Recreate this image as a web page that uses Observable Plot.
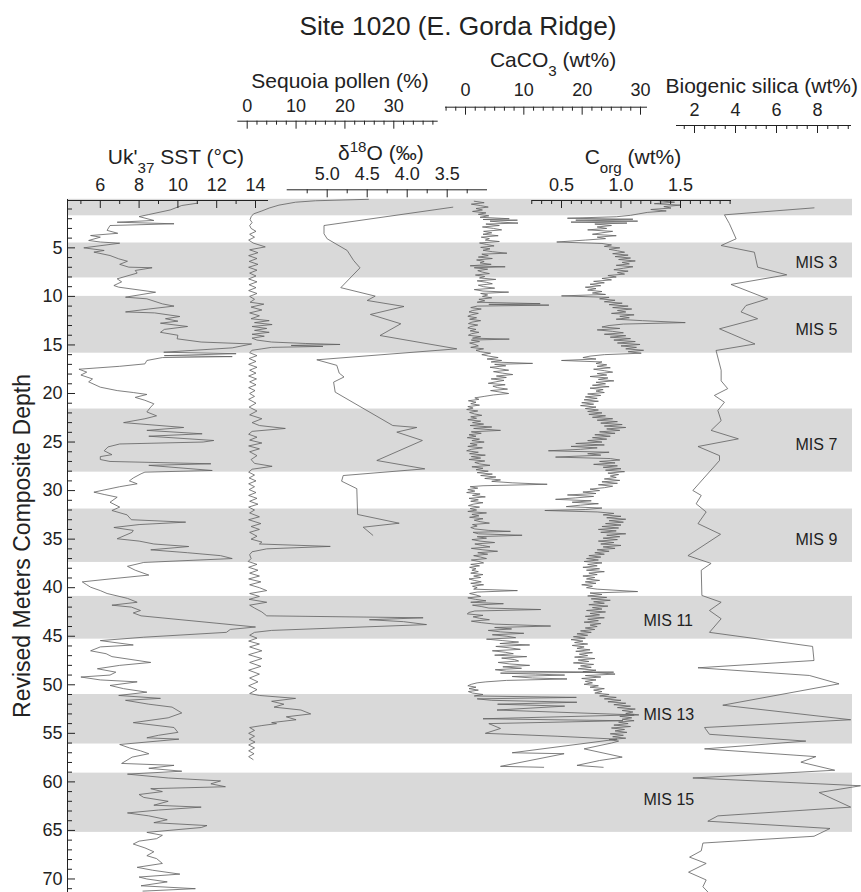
<!DOCTYPE html>
<html><head><meta charset="utf-8">
<script src="https://cdn.jsdelivr.net/npm/d3@7"></script>
<script src="https://cdn.jsdelivr.net/npm/@observablehq/plot@0.6"></script>
<style>
html,body{margin:0;padding:0;background:#fff;}
#chart{position:relative;width:861px;height:892px;overflow:hidden;}
#chart svg{position:absolute;left:0;top:0;}
</style></head><body><div id="chart"></div>
<script>
// ---------- data (depth in revised meters composite depth, value) ----------
const misBands = [[0,1.7],[4.5,8.1],[10.0,15.85],[21.6,28.1],[31.9,37.4],[40.9,45.3],[51.0,56.1],[59.1,65.2]];
const misRight = ["MIS 3","MIS 5","MIS 7","MIS 9"];
const misRightDepth = [6.55,13.4,25.25,35.1];
const misLeft = ["MIS 11","MIS 13","MIS 15"];
const misLeftDepth = [43.4,53.05,61.9];

const sst = [[0.4,11.0],[0.64,10.2],[1.1,9.6],[1.57,8.5],[1.78,8.0],[2.18,8.76],[2.36,6.87],[2.52,9.8],[2.7,6.5],[3.2,6.35],[3.5,6.9],[3.73,5.5],[3.9,6.0],[4.24,5.4],[4.4,6.0],[4.52,7.0],[5.0,5.15],[5.27,6.2],[5.44,5.67],[5.79,6.5],[6.13,6.95],[6.38,7.4],[6.7,7.0],[6.99,7.47],[7.05,8.67],[7.33,7.8],[7.6,7.9],[8.19,6.87],[8.5,7.1],[8.88,6.7],[9.05,6.95],[9.57,8.85],[10.08,7.3],[10.25,8.4],[10.77,9.2],[11.0,9.8],[11.3,8.5],[11.6,7.3],[11.7,8.8],[12.07,10.1],[12.3,9.36],[12.55,10.0],[12.76,9.1],[13.1,10.5],[13.4,9.3],[13.7,9.1],[14.0,10.0],[14.37,9.96],[14.7,11.2],[14.9,13.8],[15.3,12.8],[15.75,9.27],[15.9,13.0],[16.1,9.3],[16.2,12.8],[16.3,9.2],[16.6,8.4],[16.95,8.3],[17.2,7.0],[17.5,4.9],[17.8,5.3],[18.1,5.0],[18.5,5.6],[18.8,5.4],[19.35,6.0],[19.7,6.87],[19.9,7.7],[20.1,8.4],[20.4,7.8],[20.7,8.3],[21.06,8.76],[21.4,8.6],[21.9,8.4],[22.3,8.9],[22.6,8.3],[23.0,7.2],[23.5,10.3],[23.8,8.4],[24.15,11.25],[24.4,8.5],[24.84,11.85],[25.0,11.3],[25.2,7.0],[25.5,6.4],[25.9,6.2],[26.3,6.6],[26.5,6.0],[26.8,6.0],[27.0,6.5],[27.24,11.7],[27.4,8.5],[27.93,11.77],[28.1,8.3],[28.27,8.1],[28.7,7.7],[29.0,7.5],[29.3,7.9],[29.6,7.0],[30.16,5.67],[30.4,6.2],[30.68,6.87],[31.2,6.5],[31.7,7.0],[32.05,6.6],[32.5,7.38],[33.0,7.6],[33.25,10.4],[33.5,8.0],[33.8,6.7],[34.1,7.7],[34.3,7.64],[34.96,6.87],[35.2,8.0],[35.5,8.76],[35.76,10.56],[36.1,8.6],[36.4,10.5],[36.7,12.2],[37.0,12.8],[37.4,8.24],[37.8,7.4],[38.2,7.8],[38.7,8.5],[39.1,6.5],[39.4,5.07],[39.7,5.3],[39.95,5.5],[40.3,6.0],[40.6,6.35],[41.1,7.4],[41.5,7.9],[41.8,6.6],[42.0,7.6],[42.35,8.07],[42.6,7.7],[42.9,8.1],[44.05,14.0],[44.3,12.7],[44.6,12.5],[45.1,8.24],[45.45,6.0],[45.9,7.7],[46.1,6.0],[46.5,5.5],[46.8,6.3],[47.1,6.6],[47.7,8.6],[48.0,7.0],[48.35,5.85],[48.7,6.8],[49.0,6.5],[49.2,5.0],[49.5,6.0],[49.7,7.9],[50.07,6.5],[50.4,7.2],[50.76,8.4],[51.1,6.95],[51.4,9.1],[51.6,7.3],[52.0,8.5],[52.3,9.7],[52.9,10.2],[53.4,9.5],[53.9,7.7],[54.4,9.8],[54.9,10.0],[55.2,9.0],[55.46,8.4],[55.6,10.05],[56.15,7.0],[56.5,7.5],[56.8,8.07],[57.1,8.5],[57.45,7.64],[58.1,7.1],[58.3,9.8],[58.6,8.5],[58.9,10.2],[59.2,7.4],[59.6,9.5],[59.9,12.2],[60.2,11.7],[60.5,12.45],[60.7,8.6],[61.0,9.2],[61.3,8.0],[61.6,8.24],[62.0,9.5],[62.4,8.76],[62.6,11.2],[62.9,9.0],[63.2,7.4],[63.5,8.5],[63.9,9.45],[64.2,8.76],[64.5,11.5],[64.7,11.2],[65.2,8.4],[65.5,9.2],[65.85,8.9],[66.1,8.0],[66.4,7.7],[66.8,8.3],[67.2,8.76],[67.6,8.4],[67.9,8.9],[68.4,9.2],[68.8,7.9],[69.1,8.7],[69.5,10.1],[69.8,8.0],[70.0,8.4],[70.3,9.45],[70.7,8.1],[71.0,10.9],[71.25,8.2]];

const sequoia = [[0.0,24.8],[0.15,14],[0.3,9.9],[0.6,6.5],[0.9,4.5],[1.2,3.0],[1.5,1.3],[1.8,0.8],[2.1,0.6],[2.4,1.0],[2.7,0.5],[3.0,0.8],[3.3,1.8],[3.6,0.5],[3.9,1.5],[4.2,0.3],[4.5,1.2],[4.9,3.7],[5.2,0.5],[5.5,2.2],[5.8,0.3],[6.1,2.0],[6.4,0.4],[6.7,2.2],[7.0,0.3],[7.3,2.0],[7.6,0.5],[7.9,1.8],[8.2,0.3],[8.5,2.0],[8.8,0.4],[9.1,1.8],[9.4,0.3],[9.7,2.0],[10.0,0.5],[10.3,1.5],[10.6,0.6],[10.8,3.4],[11.1,0.8],[11.4,3.0],[11.7,0.5],[12.0,2.5],[12.3,0.8],[12.5,4.5],[12.7,1.5],[12.9,5.1],[13.1,1.0],[13.3,4.0],[13.5,1.5],[13.7,4.5],[13.9,1.0],[14.1,3.5],[14.3,1.0],[14.5,2.0],[14.7,5.0],[14.85,12.0],[14.95,19.0],[15.05,9.0],[15.15,15.5],[15.25,5.0],[15.4,3.0],[15.55,1.0],[15.8,0.5],[16.1,2.0],[16.4,0.4],[16.7,1.8],[17.0,0.3],[17.3,2.0],[17.6,0.5],[17.9,1.8],[18.2,0.3],[18.5,1.9],[18.8,0.5],[19.1,1.8],[19.4,0.3],[19.7,1.6],[20.0,0.5],[20.3,1.5],[20.6,0.3],[21.0,1.8],[21.4,0.4],[21.8,2.0],[22.2,0.5],[22.6,3.0],[23.0,1.0],[23.3,2.5],[23.6,7.8],[23.9,1.0],[24.2,0.3],[24.5,2.0],[24.8,0.5],[25.1,3.0],[25.4,0.3],[25.7,2.5],[26.0,0.5],[26.4,2.0],[26.8,0.8],[27.2,1.5],[27.5,5.1],[27.8,1.0],[28.1,0.3],[28.4,1.5],[28.7,0.4],[29.0,1.8],[29.3,0.3],[29.6,1.5],[29.9,0.4],[30.2,1.8],[30.5,0.3],[30.8,2.0],[31.1,0.5],[31.4,2.2],[31.7,0.3],[32.0,1.5],[32.3,0.5],[32.7,2.5],[33.0,0.3],[33.4,2.8],[33.7,0.8],[34.0,2.5],[34.3,0.5],[34.7,2.0],[35.0,0.8],[35.3,3.0],[35.5,2.5],[35.75,17.0],[36.0,4.0],[36.3,1.0],[36.6,0.5],[37.0,0.8],[37.3,0.2],[37.6,2.0],[37.9,0.3],[38.2,2.2],[38.5,0.5],[38.8,2.5],[39.1,0.3],[39.4,2.8],[39.7,0.5],[40.0,2.5],[40.3,4.0],[40.6,0.5],[40.9,2.5],[41.2,0.4],[41.5,4.0],[41.8,0.5],[42.1,1.5],[42.5,3.0],[42.9,4.0],[43.1,36.0],[43.3,25.0],[43.5,32.0],[43.8,36.7],[44.4,5.0],[44.6,1.5],[44.9,0.5],[45.2,2.0],[45.5,0.3],[45.8,2.5],[46.1,0.5],[46.5,3.0],[46.9,0.3],[47.3,3.0],[47.7,0.5],[48.1,2.8],[48.5,0.3],[48.9,2.5],[49.3,0.5],[49.7,2.2],[50.1,0.3],[50.5,2.0],[50.9,0.5],[51.1,2.5],[51.4,9.9],[51.7,5.0],[52.0,7.5],[52.3,5.5],[52.6,11.0],[53.0,13.0],[53.3,8.0],[53.6,10.0],[53.9,5.0],[54.0,6.0],[54.2,3.0],[54.4,0.5],[54.7,1.5],[55.0,0.3],[55.3,1.5],[55.6,0.4],[55.9,1.6],[56.2,0.3],[56.5,1.5],[56.8,0.3],[57.1,1.4],[57.4,0.3],[57.7,1.2]];

const d18O = [[0.81,3.43],[2.7,5.04],[3.55,5.04],[4.07,5.0],[5.27,4.75],[6.3,4.67],[7.06,4.59],[9.1,4.83],[9.97,4.4],[10.42,4.5],[11.04,4.04],[11.86,4.46],[12.82,4.08],[14.03,4.34],[15.4,3.38],[16.53,5.13],[17.1,4.88],[17.9,4.85],[18.3,4.79],[18.83,4.92],[19.86,4.9],[23.3,4.18],[23.5,3.88],[23.98,4.13],[24.84,3.81],[26.9,4.38],[27.76,3.78],[28.45,4.8],[29.03,4.82],[29.8,4.63],[32.46,4.62],[33.36,4.1],[33.77,4.55],[34.6,4.43]];

const caco3 = [[0.2,1.5],[0.35,3.2],[0.5,1.0],[0.65,2.6],[0.8,3.9],[0.95,1.8],[1.1,2.9],[1.25,1.2],[1.4,3.5],[1.55,2.2],[1.7,4.0],[1.85,2.5],[2.0,7.5],[2.08,3.0],[2.15,8.9],[2.25,4.2],[2.35,6.0],[2.45,9.0],[2.55,3.5],[2.7,5.8],[2.85,2.9],[3.0,4.8],[3.15,6.2],[3.3,3.1],[3.45,4.5],[3.6,3.0],[3.75,5.6],[3.9,2.7],[4.05,4.1],[4.2,3.4],[4.35,5.8],[4.5,2.4],[4.65,3.6],[4.8,4.9],[4.95,2.6],[5.1,4.2],[5.25,3.0],[5.4,4.6],[5.55,7.1],[5.65,2.8],[5.8,3.9],[5.95,2.2],[6.1,4.6],[6.25,1.9],[6.4,3.2],[6.55,2.5],[6.7,4.4],[6.85,0.8],[6.95,6.8],[7.05,1.5],[7.2,3.8],[7.35,2.1],[7.5,2.9],[7.65,4.1],[7.8,1.7],[7.95,3.3],[8.1,2.4],[8.25,5.2],[8.4,2.0],[8.55,3.6],[8.7,4.6],[8.85,2.2],[9.0,3.1],[9.15,5.0],[9.3,1.5],[9.45,3.0],[9.56,7.4],[9.7,2.6],[9.85,3.8],[10.0,2.9],[10.15,4.5],[10.3,2.3],[10.45,3.3],[10.6,2.0],[10.75,12.8],[10.82,4.0],[10.9,14.3],[11.0,2.0],[11.15,0.9],[11.3,2.7],[11.45,1.2],[11.6,0.6],[11.75,2.2],[11.9,1.0],[12.05,0.4],[12.2,1.9],[12.35,0.7],[12.5,2.6],[12.65,1.1],[12.8,0.5],[12.95,2.1],[13.1,0.9],[13.25,0.4],[13.4,1.8],[13.55,0.8],[13.7,2.3],[13.85,1.0],[14.0,0.5],[14.15,2.6],[14.3,1.2],[14.4,7.5],[14.5,1.0],[14.65,2.4],[14.8,0.7],[14.95,1.6],[15.1,2.2],[15.25,0.9],[15.4,3.1],[15.55,1.8],[15.7,2.6],[15.85,4.3],[16.0,2.8],[16.15,4.0],[16.3,5.6],[16.45,3.7],[16.6,6.2],[16.75,4.4],[16.9,11.5],[17.0,5.0],[17.15,6.9],[17.3,4.2],[17.45,5.8],[17.6,7.4],[17.75,4.8],[17.9,6.3],[18.05,8.1],[18.2,5.3],[18.35,7.0],[18.5,4.4],[18.65,6.6],[18.8,5.2],[18.95,3.9],[19.1,6.8],[19.25,4.7],[19.4,5.5],[19.55,7.2],[19.7,4.3],[19.85,5.9],[20.0,7.4],[20.15,4.8],[20.3,3.2],[20.45,1.6],[20.6,2.3],[20.75,0.5],[20.9,1.8],[21.05,0.9],[21.2,2.4],[21.35,0.4],[21.5,1.3],[21.65,0.2],[21.8,2.1],[21.95,0.7],[22.1,1.5],[22.25,2.8],[22.4,0.9],[22.55,1.9],[22.7,0.4],[22.85,2.6],[23.0,1.2],[23.15,3.1],[23.3,0.8],[23.45,4.5],[23.6,1.4],[23.8,6.0],[23.95,1.0],[24.1,2.7],[24.25,0.6],[24.4,1.8],[24.55,0.3],[24.7,2.4],[24.85,1.1],[25.0,3.2],[25.15,0.8],[25.3,2.0],[25.45,0.4],[25.6,2.9],[25.75,1.0],[25.9,0.2],[26.05,2.2],[26.2,0.7],[26.35,3.4],[26.5,1.0],[26.65,2.6],[26.8,0.6],[26.95,3.3],[27.1,1.6],[27.25,2.4],[27.4,4.2],[27.55,1.1],[27.7,3.0],[27.85,1.8],[28.0,3.9],[28.15,2.0],[28.3,4.6],[28.45,2.6],[28.6,5.2],[28.75,3.3],[28.9,6.0],[29.05,4.5],[29.2,8.0],[29.35,14.0],[29.5,3.0],[29.6,0.8],[29.75,2.1],[29.9,0.4],[30.05,1.6],[30.2,0.2],[30.35,2.5],[30.5,1.2],[30.65,3.4],[30.8,0.6],[30.95,2.2],[31.1,0.9],[31.25,3.0],[31.4,1.3],[31.55,0.5],[31.7,2.4],[31.85,0.8],[32.0,1.9],[32.15,0.4],[32.3,3.6],[32.45,1.1],[32.6,2.3],[32.75,0.7],[32.9,3.0],[33.05,1.5],[33.2,2.5],[33.35,4.1],[33.5,1.2],[33.65,2.0],[33.8,0.9],[33.95,1.6],[34.1,4.0],[34.2,7.7],[34.3,1.3],[34.45,2.2],[34.6,9.7],[34.75,2.0],[34.9,3.6],[35.05,1.1],[35.2,2.5],[35.35,5.0],[35.5,1.6],[35.65,2.9],[35.8,4.2],[35.95,1.0],[36.1,3.0],[36.25,5.5],[36.4,2.1],[36.55,3.8],[36.7,1.4],[36.85,2.6],[37.0,3.6],[37.15,1.0],[37.3,2.3],[37.45,3.1],[37.6,0.9],[37.75,2.4],[37.9,0.7],[38.05,1.8],[38.2,1.1],[38.35,2.2],[38.5,0.9],[38.65,3.0],[38.8,1.4],[38.95,2.6],[39.1,0.6],[39.25,1.5],[39.4,2.7],[39.55,0.9],[39.7,3.1],[39.85,1.2],[40.0,2.0],[40.15,1.4],[40.3,8.9],[40.45,2.0],[40.6,0.7],[40.75,1.8],[40.9,2.6],[41.05,0.4],[41.2,1.7],[41.35,3.5],[41.5,0.9],[41.65,6.5],[41.8,1.2],[41.95,2.8],[42.1,4.0],[42.25,12.9],[42.4,1.6],[42.55,0.6],[42.7,0.3],[42.85,3.0],[43.0,1.3],[43.15,2.4],[43.3,4.1],[43.45,1.0],[43.6,2.7],[43.75,5.0],[43.95,14.6],[44.1,5.0],[44.25,7.9],[44.4,3.9],[44.55,6.0],[44.7,10.0],[44.85,4.6],[45.0,7.1],[45.15,8.6],[45.3,3.6],[45.45,6.4],[45.6,9.1],[45.75,5.9],[45.9,11.0],[46.05,5.2],[46.2,7.6],[46.35,9.4],[46.5,4.6],[46.65,6.8],[46.8,8.2],[46.95,5.0],[47.1,10.5],[47.25,6.2],[47.4,8.4],[47.55,9.1],[47.7,5.6],[47.85,7.5],[48.0,11.0],[48.15,6.4],[48.3,9.6],[48.45,5.1],[48.6,7.0],[48.7,25.4],[48.8,6.0],[48.9,12.0],[49.0,17.0],[49.15,8.0],[49.3,11.5],[49.4,17.4],[49.55,7.0],[49.7,3.5],[49.8,2.0],[49.95,1.0],[50.1,0.4],[50.25,1.8],[50.4,0.6],[50.55,2.2],[50.7,0.5],[50.85,1.2],[51.0,3.0],[51.15,1.5],[51.3,19.0],[51.45,2.0],[51.6,4.5],[51.8,19.1],[52.0,5.5],[52.2,17.0],[52.6,5.4],[53.1,28.9],[53.5,3.0],[53.7,27.0],[54.0,4.0],[54.5,6.0],[55.0,3.4],[55.3,15.7],[55.6,26.0],[57.0,8.0],[57.1,16.9],[58.4,6.0],[58.5,13.4]];

const corg = [[0.15,1.32],[0.3,1.45],[0.45,1.28],[0.6,1.50],[0.75,1.36],[0.9,1.42],[1.05,1.25],[1.2,1.38],[1.35,1.22],[1.5,1.15],[1.65,1.08],[1.8,0.96],[1.95,0.55],[2.05,1.10],[2.15,0.62],[2.25,1.14],[2.35,0.58],[2.45,1.05],[2.55,0.78],[2.7,0.92],[2.85,0.80],[3.0,0.88],[3.15,0.72],[3.3,0.93],[3.45,0.84],[3.6,0.76],[3.75,0.96],[3.9,0.80],[4.05,0.87],[4.2,0.70],[4.4,0.46],[4.55,0.84],[4.7,0.92],[4.85,0.86],[5.0,0.99],[5.15,0.90],[5.3,0.97],[5.45,1.03],[5.6,0.93],[5.75,1.06],[5.9,0.95],[6.05,1.08],[6.2,0.98],[6.35,1.12],[6.5,1.01],[6.65,1.07],[6.8,0.96],[6.95,1.10],[7.1,1.02],[7.25,0.94],[7.4,1.06],[7.55,0.97],[7.7,1.03],[7.85,0.89],[8.0,0.96],[8.15,0.84],[8.3,0.92],[8.45,0.77],[8.6,0.86],[8.75,0.74],[8.9,0.83],[9.05,0.70],[9.2,0.79],[9.35,0.72],[9.5,0.84],[9.65,0.76],[9.8,0.87],[9.95,0.50],[10.1,0.90],[10.25,0.82],[10.4,0.95],[10.55,0.86],[10.7,1.01],[10.85,0.90],[11.0,1.06],[11.15,0.93],[11.3,1.09],[11.45,0.97],[11.6,1.04],[11.75,0.92],[11.9,1.11],[12.05,0.99],[12.2,1.07],[12.35,0.96],[12.5,1.18],[12.7,1.54],[12.85,1.02],[13.0,0.90],[13.15,0.84],[13.3,0.99],[13.45,0.80],[13.6,0.93],[13.75,1.02],[13.9,0.86],[14.05,1.04],[14.2,0.91],[14.35,1.08],[14.5,0.94],[14.65,1.12],[14.8,0.97],[14.95,1.16],[15.1,1.00],[15.25,1.13],[15.4,1.04],[15.55,1.19],[15.7,1.06],[15.85,1.17],[16.0,0.86],[16.15,0.74],[16.3,0.68],[16.45,0.79],[16.6,0.50],[16.75,0.84],[16.9,0.79],[17.05,0.88],[17.2,0.80],[17.35,0.91],[17.5,0.77],[17.65,0.86],[17.8,0.93],[17.95,0.80],[18.1,0.88],[18.25,0.74],[18.4,0.89],[18.55,0.81],[18.7,0.94],[18.85,0.79],[19.0,0.87],[19.15,0.76],[19.3,0.90],[19.45,0.74],[19.6,0.85],[19.75,0.79],[19.9,0.86],[20.05,0.72],[20.2,0.83],[20.35,0.70],[20.5,0.80],[20.65,0.69],[20.8,0.81],[20.95,0.67],[21.1,0.77],[21.25,0.66],[21.4,0.79],[21.55,0.70],[21.7,0.81],[21.85,0.72],[22.0,0.84],[22.15,0.73],[22.3,0.87],[22.45,0.76],[22.6,0.93],[22.75,0.80],[22.9,0.97],[23.05,0.83],[23.2,1.01],[23.35,0.86],[23.5,1.04],[23.65,0.88],[23.8,0.99],[23.95,0.82],[24.1,0.95],[24.25,0.78],[24.4,0.91],[24.55,0.76],[24.7,0.88],[24.85,0.72],[25.0,0.84],[25.15,0.62],[25.3,0.86],[25.45,0.58],[25.6,0.80],[25.75,0.66],[25.9,0.39],[26.05,0.90],[26.2,0.72],[26.35,0.83],[26.55,0.45],[26.7,0.91],[26.85,0.99],[27.0,0.82],[27.15,0.95],[27.3,0.77],[27.45,0.97],[27.6,0.85],[27.75,1.00],[27.9,0.87],[28.05,1.03],[28.2,0.89],[28.35,0.98],[28.5,0.91],[28.65,0.96],[28.8,0.86],[28.95,0.99],[29.1,0.84],[29.25,0.97],[29.4,0.81],[29.55,0.93],[29.7,0.86],[29.85,0.74],[30.0,0.82],[30.15,0.68],[30.3,0.79],[30.45,0.55],[30.6,0.77],[30.75,0.62],[30.9,0.45],[31.05,0.75],[31.2,0.59],[31.35,0.81],[31.5,0.66],[31.65,0.54],[31.8,0.84],[31.95,0.70],[32.05,0.36],[32.2,0.80],[32.35,0.94],[32.5,0.85],[32.65,1.00],[32.8,0.88],[32.95,1.04],[33.1,0.90],[33.25,1.02],[33.4,0.87],[33.55,1.00],[33.7,0.84],[33.85,0.98],[34.0,0.81],[34.15,0.96],[34.3,0.83],[34.45,1.04],[34.6,0.88],[34.75,0.99],[34.9,0.85],[35.05,0.97],[35.2,0.81],[35.35,0.94],[35.5,0.83],[35.65,1.00],[35.8,0.85],[35.95,0.95],[36.1,0.80],[36.25,0.90],[36.4,0.78],[36.55,0.86],[36.7,0.73],[36.85,0.83],[37.0,0.71],[37.15,0.81],[37.3,0.69],[37.45,0.84],[37.6,0.72],[37.75,0.80],[37.9,0.68],[38.05,0.82],[38.2,0.71],[38.35,0.86],[38.5,0.73],[38.65,0.80],[38.8,0.68],[38.95,0.78],[39.1,0.71],[39.25,0.82],[39.4,0.70],[39.55,0.79],[39.7,0.67],[39.85,0.76],[40.0,0.71],[40.15,0.80],[40.4,1.14],[40.55,0.74],[40.7,0.84],[40.85,0.72],[41.0,0.88],[41.15,0.75],[41.3,0.91],[41.45,0.77],[41.6,0.86],[41.75,0.73],[41.9,0.89],[42.05,0.76],[42.2,0.84],[42.35,0.71],[42.5,0.87],[42.65,0.74],[42.8,0.82],[42.95,0.70],[43.1,0.86],[43.25,0.72],[43.4,0.81],[43.55,0.69],[43.7,0.83],[43.85,0.74],[44.0,0.80],[44.15,0.70],[44.3,0.78],[44.45,0.66],[44.6,0.75],[44.75,0.63],[44.9,0.72],[45.05,0.60],[45.2,0.70],[45.35,0.58],[45.5,0.68],[45.65,0.61],[45.8,0.72],[45.95,0.59],[46.1,0.69],[46.25,0.63],[46.4,0.74],[46.55,0.62],[46.7,0.76],[46.85,0.65],[47.0,0.72],[47.15,0.61],[47.3,0.78],[47.45,0.64],[47.6,0.73],[47.75,0.60],[47.9,0.77],[48.05,0.66],[48.2,0.75],[48.35,0.64],[48.5,0.79],[48.65,0.68],[48.9,0.95],[49.05,0.70],[49.2,0.83],[49.35,0.67],[49.5,0.79],[49.65,0.70],[49.8,0.76],[49.95,0.69],[50.1,0.81],[50.25,0.74],[50.4,0.86],[50.55,0.77],[50.7,0.84],[50.85,0.78],[51.0,0.90],[51.15,0.82],[51.3,0.96],[51.45,0.86],[51.6,1.00],[51.75,0.89],[51.9,1.04],[52.05,0.94],[52.2,1.08],[52.35,0.97],[52.5,1.12],[52.65,1.01],[52.8,1.10],[52.95,1.04],[53.1,1.15],[53.25,0.99],[53.4,1.09],[53.55,1.01],[53.7,1.11],[53.85,0.98],[54.0,1.06],[54.15,0.94],[54.3,1.08],[54.45,0.92],[54.6,1.03],[54.75,0.95],[54.9,1.05],[55.05,0.91],[55.2,1.02],[55.35,0.93],[55.5,1.04],[55.65,0.90],[55.8,0.98],[56.0,0.92],[56.6,0.69],[57.45,1.01],[57.8,0.82],[58.3,0.63],[58.5,0.85]];

const bsi = [[0.88,7.83],[1.6,3.46],[2.5,3.7],[4.07,4.03],[4.76,3.3],[5.45,4.92],[6.99,5.08],[7.78,6.5],[8.77,3.78],[10.25,5.57],[10.94,4.51],[11.6,4.27],[12.3,5.08],[13.34,3.22],[14.9,4.95],[15.57,3.05],[17.6,3.3],[18.7,3.3],[19.5,3.62],[20.2,2.97],[20.9,3.46],[21.75,3.14],[22.8,3.3],[23.8,2.81],[24.67,4.14],[25.46,2.17],[26.4,3.22],[26.9,3.22],[29.99,1.92],[30.5,2.33],[31.36,2.08],[32.2,2.57],[33.4,2.17],[34.5,3.27],[36.7,1.68],[37.5,2.81],[38.2,2.33],[40.8,2.36],[41.5,3.3],[42.35,2.73],[43.2,3.3],[44.6,2.73],[46.05,7.76],[47.5,7.83],[48.25,2.17],[49.04,7.6],[49.9,9.05],[52.1,3.38],[53.6,9.62],[54.4,2.49],[55.1,2.73],[55.8,7.43],[56.6,2.49],[57.4,7.92],[57.97,7.19],[58.8,8.84],[59.6,1.92],[60.4,10.1],[61.1,8.08],[62.6,9.62],[63.5,3.14],[64.05,2.65],[64.8,8.61],[65.6,7.83],[66.3,2.41],[67.1,2.33],[67.75,1.76],[68.4,2.57],[69.3,1.71],[70.1,2.57],[70.8,2.41],[71.4,2.68]];

// ---------- tick values ----------
const depthMajor = [5,10,15,20,25,30,35,40,45,50,55,60,65,70];
const depthMinor = d3.range(1,72).filter(v => v % 5 !== 0);
const sstMajor = [6,8,10,12,14], sstMinor = [5,7,9,11,13];
const seqMajor = [0,10,20,30], seqMinor = [2,4,6,8,12,14,16,18,22,24,26,28,32,34,36,38];
const d18Major = [5.0,4.5,4.0,3.5], d18Minor = [5.25,4.75,4.25,3.75,3.25];
const caMajor = [0,10,20,30], caMinor = [-3.33,-1.67,1.67,3.33,5,6.67,8.33,11.67,13.33,15,16.67,18.33,21.67,23.33,25,26.67,28.33];
const corgMajor = [0.5,1.0,1.5], corgMinor = [0.25,0.333,0.417,0.583,0.667,0.75,0.833,0.917,1.083,1.167,1.25,1.333,1.417,1.583,1.667,1.75,1.833,1.917];
const bsiMajor = [2,4,6,8], bsiMinor = [1.5,2.5,3,3.5,4.5,5,5.5,6.5,7,7.5,8.5,9,9.5];

// ---------- layout ----------
const W = 861, H = 892;
const FONT = '"Liberation Sans", Arial, Helvetica, sans-serif';
const yScale = {domain: [0, 71.3], range: [198.8, 891.1], label: null};
const INK = "#222";
const LINE = "#606060";
const baseStyle = {background: "transparent", fontFamily: FONT, fontSize: "18px", color: INK, overflow: "visible"};

const chart = document.getElementById("chart");
function add(svg) { svg.style.position = "absolute"; svg.style.left = "0px"; svg.style.top = "0px"; svg.style.background = "transparent"; chart.appendChild(svg); return svg; }

// background: bands, y labels, title, MIS labels
add(Plot.plot({
  width: W, height: H, marginLeft: 67, marginRight: 9, marginTop: 199, marginBottom: 0,
  y: yScale, style: baseStyle,
  marks: [
    Plot.rect(misBands, {y1: d => d[0], y2: d => d[1], fill: "#d9d9d9"}),
    Plot.frame({anchor: "left", stroke: INK}),
    Plot.axisY(depthMajor, {anchor: "left", tickSize: 0, tickPadding: 5, fontSize: 18, label: null}),
    Plot.text(["Revised Meters Composite Depth"], {text: d => d, frameAnchor: "left", textAnchor: "middle", rotate: -90, dx: -45, fontSize: 23, fill: INK}),
    Plot.text(["Site 1020 (E. Gorda Ridge)"], {text: d => d, frameAnchor: "top", dx: -2, dy: -164.7, lineAnchor: "bottom", fontSize: 26.3, fill: INK}),
    Plot.text(misRight, {text: d => d, y: (d, i) => misRightDepth[i], frameAnchor: "right", textAnchor: "start", dx: -57, fontSize: 16, fill: INK}),
    Plot.text(misLeft, {text: d => d, y: (d, i) => misLeftDepth[i], frameAnchor: "right", textAnchor: "start", dx: -209, fontSize: 16, fill: INK})
  ]
}));

// inward y ticks
add(Plot.plot({
  width: W, height: H, marginLeft: 0, marginRight: W - 67, marginTop: 199, marginBottom: 0,
  y: yScale, style: baseStyle,
  marks: [
    Plot.axisY(depthMinor, {anchor: "right", tickSize: 4, fill: "none", stroke: INK, label: null}),
    Plot.axisY(depthMajor, {anchor: "right", tickSize: 7, fill: "none", stroke: INK, label: null})
  ]
}));

function track(o) {
  return add(Plot.plot({
    width: W, height: H,
    marginLeft: o.line[0], marginRight: W - o.line[1], marginTop: o.axisY, marginBottom: H - o.axisY,
    x: {domain: o.domain, range: o.range, label: null},
    y: {...yScale, axis: null},
    style: baseStyle,
    marks: [
      Plot.line(o.data, {x: d => d[1], y: d => d[0], stroke: LINE, strokeWidth: 0.8}),
      Plot.frame({anchor: "top", stroke: INK}),
      Plot.axisX(o.minor, {anchor: "bottom", tickSize: 4, fill: "none", stroke: INK, label: null}),
      Plot.axisX(o.major, {anchor: "bottom", tickSize: 8, fill: "none", stroke: INK, label: null}),
      Plot.axisX(o.major, {anchor: "top", tickSize: 0, tickPadding: o.pad, tickFormat: o.fmt, fontSize: 18, fill: INK, label: null}),
      Plot.text([o.title], {text: d => d, x: () => o.titleX, frameAnchor: "top", dy: o.titleBase - o.axisY, lineAnchor: "bottom", fontSize: 21, fill: INK})
    ]
  }));
}

track({data: sst, domain: [6, 14], range: [99.8, 255], line: [67, 267], axisY: 200, major: sstMajor, minor: sstMinor, fmt: d3.format("d"), pad: 10, title: "Uk'_{37} SST (°C)", titleX: 9.9, titleBase: 163.3});
track({data: sequoia, domain: [0, 30], range: [246.7, 393.3], line: [237.3, 436.7], axisY: 120.7, major: seqMajor, minor: seqMinor, fmt: d3.format("d"), pad: 9, title: "Sequoia pollen (%)", titleX: 19.0, titleBase: 87.3});
track({data: d18O, domain: [5.0, 3.5], range: [326.7, 446.7], line: [286.7, 486], axisY: 189.3, major: d18Major, minor: d18Minor, fmt: d3.format(".1f"), pad: 10, title: "δ^{18}O (‰)", titleX: 4.33, titleBase: 159.3});
track({data: caco3, domain: [0, 30], range: [465, 640], line: [445, 646], axisY: 106.7, major: caMajor, minor: caMinor, fmt: d3.format("d"), pad: 11, title: "CaCO_{3} (wt%)", titleX: 15.0, titleBase: 66});
track({data: corg, domain: [0.5, 1.5], range: [561, 680], line: [531.7, 730], axisY: 200, major: corgMajor, minor: corgMinor, fmt: d3.format(".1f"), pad: 10, title: "C_{org} (wt%)", titleX: 1.1, titleBase: 163.3});
track({data: bsi, domain: [2, 8], range: [694, 817], line: [676, 850], axisY: 125, major: bsiMajor, minor: bsiMinor, fmt: d3.format("d"), pad: 10, title: "Biogenic silica (wt%)", titleX: 5.28, titleBase: 92.3});

// sub/superscript markup -> tspans
d3.select(chart).selectAll("text").each(function() {
  const t = this.textContent;
  if (!/[_^]\{/.test(t)) return;
  const sel = d3.select(this);
  sel.text(null);
  const re = /([_^])\{([^}]*)\}/g;
  let last = 0, m;
  while ((m = re.exec(t))) {
    if (m.index > last) sel.append("tspan").text(t.slice(last, m.index));
    sel.append("tspan").attr("baseline-shift", m[1] === "_" ? "sub" : "super").attr("font-size", "72%").text(m[2]);
    last = re.lastIndex;
  }
  if (last < t.length) sel.append("tspan").text(t.slice(last));
});
</script></body></html>
